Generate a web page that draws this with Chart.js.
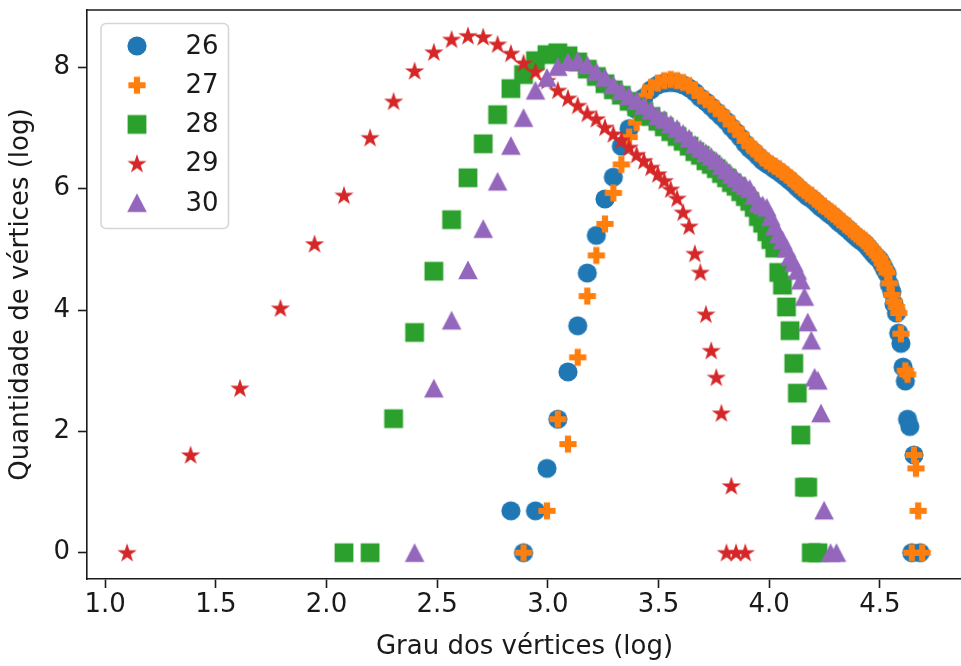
<!DOCTYPE html>
<html>
<head>
<meta charset="utf-8">
<script src="https://cdn.jsdelivr.net/npm/chart.js@4.4.1/dist/chart.umd.min.js"></script>
<style>
  html, body { margin: 0; padding: 0; background: #fff; overflow: hidden; }
  #wrap { width: 961px; height: 666px; overflow: hidden; position: relative; }
  canvas { display: block; }
</style>
</head>
<body>
<div id="wrap"><canvas id="chart" width="972" height="666"></canvas></div>
<script>
// Degree distribution, log-log: x = ln(degree), y = ln(number of vertices)
const seriesNames  = ['26', '27', '28', '29', '30'];
const seriesColors = ['#1f77b4', '#ff7f0e', '#2ca02c', '#d62728', '#9467bd'];
const seriesMarkers = ['circle', 'plus', 'square', 'star', 'triangle'];

const xTicks = [1.0, 1.5, 2.0, 2.5, 3.0, 3.5, 4.0, 4.5];
const yTicks = [0, 2, 4, 6, 8];

const degree26 = [2.833, 2.890, 2.944, 2.996, 3.045, 3.091, 3.135, 3.178, 3.219, 3.258,
  3.296, 3.332, 3.367, 3.401, 3.434, 3.466, 3.497, 3.526, 3.555, 3.584,
  3.611, 3.638, 3.664, 3.689, 3.714, 3.738, 3.761, 3.784, 3.807, 3.829,
  3.850, 3.871, 3.892, 3.912, 3.932, 3.951, 3.970, 3.989, 4.007, 4.025,
  4.043, 4.060, 4.078, 4.094, 4.111, 4.127, 4.143, 4.159, 4.174, 4.190,
  4.205, 4.220, 4.234, 4.248, 4.263, 4.277, 4.290, 4.304, 4.317, 4.331,
  4.344, 4.357, 4.369, 4.382, 4.394, 4.407, 4.419, 4.431, 4.443, 4.454,
  4.466, 4.477, 4.489, 4.500, 4.511, 4.522, 4.533, 4.543, 4.554, 4.564,
  4.575, 4.585, 4.595, 4.605, 4.615, 4.625, 4.635, 4.644, 4.654, 4.682];
const count26 = [0.69, 0, 0.69, 1.39, 2.20, 2.98, 3.74, 4.61, 5.23, 5.83,
  6.19, 6.70, 6.99, 7.30, 7.50, 7.63, 7.71, 7.74, 7.75, 7.74,
  7.71, 7.66, 7.59, 7.50, 7.43, 7.35, 7.27, 7.19, 7.11, 7.01,
  6.93, 6.84, 6.74, 6.66, 6.60, 6.53, 6.46, 6.41, 6.37, 6.32,
  6.28, 6.23, 6.18, 6.13, 6.08, 6.02, 5.97, 5.92, 5.87, 5.84,
  5.79, 5.74, 5.69, 5.66, 5.61, 5.57, 5.54, 5.49, 5.44, 5.41,
  5.36, 5.33, 5.28, 5.24, 5.20, 5.16, 5.13, 5.10, 5.05, 5.00,
  4.95, 4.90, 4.86, 4.82, 4.75, 4.67, 4.60, 4.42, 4.30, 4.10,
  3.95, 3.62, 3.45, 3.06, 2.83, 2.20, 2.08, 0, 1.61, 0];

const degree27 = [2.890, 2.996, 3.045, 3.091, 3.135, 3.178, 3.219, 3.258, 3.296, 3.332,
  3.367, 3.401, 3.434, 3.466, 3.497, 3.526, 3.555, 3.584, 3.611, 3.638,
  3.664, 3.689, 3.714, 3.738, 3.761, 3.784, 3.807, 3.829, 3.850, 3.871,
  3.892, 3.912, 3.932, 3.951, 3.970, 3.989, 4.007, 4.025, 4.043, 4.060,
  4.078, 4.094, 4.111, 4.127, 4.143, 4.159, 4.174, 4.190, 4.205, 4.220,
  4.234, 4.248, 4.263, 4.277, 4.290, 4.304, 4.317, 4.331, 4.344, 4.357,
  4.369, 4.382, 4.394, 4.407, 4.419, 4.431, 4.443, 4.454, 4.466, 4.477,
  4.489, 4.500, 4.511, 4.522, 4.533, 4.543, 4.554, 4.564, 4.575, 4.585,
  4.595, 4.615, 4.625, 4.644, 4.654, 4.663, 4.673, 4.691];
const count27 = [0, 0.69, 2.20, 1.79, 3.22, 4.23, 4.90, 5.42, 5.93, 6.40,
  6.85, 7.09, 7.53, 7.67, 7.74, 7.78, 7.80, 7.78, 7.75, 7.70,
  7.63, 7.53, 7.47, 7.39, 7.32, 7.24, 7.16, 7.06, 6.98, 6.89,
  6.79, 6.71, 6.65, 6.58, 6.51, 6.46, 6.41, 6.37, 6.33, 6.28,
  6.23, 6.18, 6.13, 6.07, 6.02, 5.97, 5.92, 5.89, 5.84, 5.79,
  5.74, 5.71, 5.66, 5.62, 5.59, 5.54, 5.49, 5.46, 5.41, 5.38,
  5.33, 5.29, 5.25, 5.21, 5.18, 5.15, 5.10, 5.05, 5.00, 4.95,
  4.90, 4.85, 4.77, 4.69, 4.62, 4.44, 4.25, 4.14, 4.05, 3.95,
  3.61, 3.00, 2.94, 0, 1.61, 1.39, 0.69, 0];

const degree28 = [2.079, 2.197, 2.303, 2.398, 2.485, 2.565, 2.639, 2.708, 2.773, 2.833,
  2.890, 2.944, 2.996, 3.045, 3.091, 3.135, 3.178, 3.219, 3.258, 3.296,
  3.332, 3.367, 3.401, 3.434, 3.466, 3.497, 3.526, 3.555, 3.584, 3.611,
  3.638, 3.664, 3.689, 3.714, 3.738, 3.761, 3.784, 3.807, 3.829, 3.850,
  3.871, 3.892, 3.912, 3.932, 3.951, 3.970, 3.989, 4.007, 4.025, 4.043,
  4.060, 4.078, 4.094, 4.111, 4.127, 4.143, 4.159, 4.174, 4.190, 4.220];
const count28 = [0, 0, 2.21, 3.63, 4.64, 5.49, 6.18, 6.74, 7.22, 7.65,
  7.88, 8.11, 8.21, 8.24, 8.19, 8.09, 7.97, 7.85, 7.73, 7.63,
  7.54, 7.44, 7.35, 7.27, 7.19, 7.11, 7.02, 6.94, 6.86, 6.78,
  6.70, 6.61, 6.55, 6.46, 6.40, 6.33, 6.25, 6.18, 6.10, 6.04,
  5.95, 5.87, 5.79, 5.69, 5.54, 5.43, 5.29, 5.16, 5.02, 4.62,
  4.41, 4.05, 3.66, 3.12, 2.63, 1.94, 1.08, 1.08, 0, 0];

const degree29 = [1.099, 1.386, 1.609, 1.792, 1.946, 2.079, 2.197, 2.303, 2.398, 2.485,
  2.565, 2.639, 2.708, 2.773, 2.833, 2.890, 2.944, 2.996, 3.045, 3.091,
  3.135, 3.178, 3.219, 3.258, 3.296, 3.332, 3.367, 3.401, 3.434, 3.466,
  3.497, 3.526, 3.555, 3.584, 3.611, 3.638, 3.664, 3.689, 3.714, 3.738,
  3.761, 3.784, 3.807, 3.829, 3.850, 3.892];
const count29 = [0, 1.61, 2.71, 4.03, 5.09, 5.89, 6.84, 7.44, 7.94, 8.25,
  8.46, 8.52, 8.50, 8.38, 8.23, 8.07, 7.93, 7.78, 7.62, 7.49,
  7.37, 7.24, 7.15, 7.01, 6.90, 6.80, 6.68, 6.56, 6.46, 6.35,
  6.24, 6.13, 5.99, 5.84, 5.61, 5.38, 4.93, 4.62, 3.93, 3.33,
  2.89, 2.30, 0, 1.10, 0, 0];

const degree30 = [2.398, 2.485, 2.565, 2.639, 2.708, 2.773, 2.833, 2.890, 2.944, 2.996,
  3.045, 3.091, 3.135, 3.178, 3.219, 3.258, 3.296, 3.332, 3.367, 3.401,
  3.434, 3.466, 3.497, 3.526, 3.555, 3.584, 3.611, 3.638, 3.664, 3.689,
  3.714, 3.738, 3.761, 3.784, 3.807, 3.829, 3.850, 3.871, 3.892, 3.912,
  3.932, 3.951, 3.970, 3.989, 4.007, 4.025, 4.043, 4.060, 4.078, 4.094,
  4.111, 4.127, 4.143, 4.159, 4.174, 4.190, 4.205, 4.220, 4.234, 4.248,
  4.277, 4.304];
const count30 = [0, 2.71, 3.83, 4.66, 5.34, 6.12, 6.71, 7.17, 7.62, 7.83,
  8.01, 8.09, 8.11, 8.04, 7.93, 7.83, 7.71, 7.61, 7.53, 7.45,
  7.37, 7.29, 7.20, 7.14, 7.06, 6.99, 6.91, 6.83, 6.73, 6.66,
  6.59, 6.53, 6.46, 6.38, 6.31, 6.23, 6.17, 6.10, 6.05, 6.00,
  5.89, 5.76, 5.73, 5.69, 5.54, 5.38, 5.25, 5.15, 5.02, 4.88,
  4.78, 4.65, 4.49, 4.22, 3.80, 3.50, 2.89, 2.84, 2.30, 0.70,
  0, 0];

const degrees = [degree26, degree27, degree28, degree29, degree30];
const counts  = [count26, count27, count28, count29, count30];

const FONT = 'DejaVu Sans';
const FONT_SIZE = 26;
const INK = '#1a1a1a';

// Filled marker sprites (circle, thick plus, square, star, triangle)
function makeMarker(kind, color) {
  const s = 26, m = s / 2;
  const c = document.createElement('canvas');
  c.width = s; c.height = s;
  const g = c.getContext('2d');
  g.fillStyle = color;
  g.beginPath();
  if (kind === 'circle') {
    g.arc(m, m, 9.6, 0, Math.PI * 2);
  } else if (kind === 'plus') {
    const L = 8.6, T = 3.1;
    g.rect(m - L, m - T, 2 * L, 2 * T);
    g.rect(m - T, m - L, 2 * T, 2 * L);
  } else if (kind === 'square') {
    g.rect(m - 9.4, m - 9.4, 18.8, 18.8);
  } else if (kind === 'star') {
    const R = 10.2, r = R * 0.382;
    for (let i = 0; i < 10; i++) {
      const a = -Math.PI / 2 + i * Math.PI / 5;
      const rr = i % 2 === 0 ? R : r;
      const px = m + rr * Math.cos(a), py = m + 0.6 + rr * Math.sin(a);
      if (i === 0) g.moveTo(px, py); else g.lineTo(px, py);
    }
    g.closePath();
  } else if (kind === 'triangle') {
    g.moveTo(m, m - 9.6);
    g.lineTo(m + 9.8, m + 9.2);
    g.lineTo(m - 9.8, m + 9.2);
    g.closePath();
  }
  g.fill();
  return c;
}
const sprites = seriesMarkers.map((k, i) => makeMarker(k, seriesColors[i]));

const datasets = seriesNames.map((name, i) => ({
  label: name,
  data: degrees[i].map((x, j) => ({ x: x, y: counts[i][j] })),
  pointStyle: sprites[i],
  pointRadius: 9,
  backgroundColor: seriesColors[i],
  borderColor: seriesColors[i],
  showLine: false,
  order: seriesNames.length - i,
  clip: false
}));

// Top/right spines and the boxed legend in the upper-left corner
const framePlugin = {
  id: 'frame',
  afterDraw(chart) {
    const { ctx, chartArea: a } = chart;
    ctx.save();
    ctx.strokeStyle = INK;
    ctx.lineWidth = 1.6;
    ctx.beginPath();
    ctx.moveTo(a.left - 0.8, a.top);
    ctx.lineTo(a.right, a.top);
    ctx.lineTo(a.right, a.bottom);
    ctx.stroke();

    const bx = a.left + 14, by = a.top + 13.5, bw = 127.5, bh = 205, rad = 5;
    ctx.beginPath();
    ctx.moveTo(bx + rad, by);
    ctx.arcTo(bx + bw, by, bx + bw, by + bh, rad);
    ctx.arcTo(bx + bw, by + bh, bx, by + bh, rad);
    ctx.arcTo(bx, by + bh, bx, by, rad);
    ctx.arcTo(bx, by, bx + bw, by, rad);
    ctx.closePath();
    ctx.fillStyle = 'rgba(255,255,255,0.8)';
    ctx.fill();
    ctx.strokeStyle = '#d6d6d6';
    ctx.lineWidth = 1.6;
    ctx.stroke();

    ctx.font = `${FONT_SIZE}px "${FONT}"`;
    ctx.fillStyle = INK;
    ctx.textBaseline = 'middle';
    ctx.textAlign = 'left';
    chart.data.datasets.forEach((ds, i) => {
      const cy = by + 22.5 + i * 39.2;
      const sp = ds.pointStyle;
      ctx.drawImage(sp, a.left + 50 - sp.width / 2, cy - sp.height / 2);
      ctx.fillText(ds.label, a.left + 98.5, cy + 1);
    });
    ctx.restore();
  }
};

new Chart(document.getElementById('chart'), {
  type: 'scatter',
  data: { datasets },
  plugins: [framePlugin],
  options: {
    responsive: false,
    animation: false,
    devicePixelRatio: 1,
    layout: { padding: { top: 9, right: 6, left: 0, bottom: 0 } },
    plugins: { legend: { display: false }, tooltip: { enabled: false } },
    scales: {
      x: {
        type: 'linear',
        min: 0.918,
        max: 4.871,
        afterBuildTicks: s => { s.ticks = xTicks.map(v => ({ value: v })); },
        afterFit: s => { s.height = 87; s.paddingLeft = 0; s.paddingRight = 0; },
        grid: { drawOnChartArea: false, drawTicks: true, tickLength: 9, tickWidth: 1.6, tickColor: INK },
        border: { display: true, color: INK, width: 1.6 },
        ticks: {
          font: { family: FONT, size: FONT_SIZE }, color: INK, padding: 2,
          maxRotation: 0, autoSkip: false,
          callback: v => Number(v).toFixed(1)
        },
        title: {
          display: true, text: 'Grau dos vértices (log)',
          font: { family: FONT, size: FONT_SIZE }, color: INK,
          padding: { top: 0, bottom: 3 }
        }
      },
      y: {
        type: 'linear',
        min: -0.433,
        max: 8.945,
        afterBuildTicks: s => { s.ticks = yTicks.map(v => ({ value: v })); },
        afterFit: s => { s.width = 87; s.paddingTop = 0; s.paddingBottom = 0; },
        grid: { drawOnChartArea: false, drawTicks: true, tickLength: 9, tickWidth: 1.6, tickColor: INK },
        border: { display: true, color: INK, width: 1.6 },
        ticks: {
          font: { family: FONT, size: FONT_SIZE }, color: INK, padding: 8,
          autoSkip: false,
          callback: v => String(v)
        },
        title: {
          display: true, text: 'Quantidade de vértices (log)',
          font: { family: FONT, size: FONT_SIZE }, color: INK,
          padding: { top: 6, bottom: 0 }
        }
      }
    }
  }
});
</script>
</body>
</html>
